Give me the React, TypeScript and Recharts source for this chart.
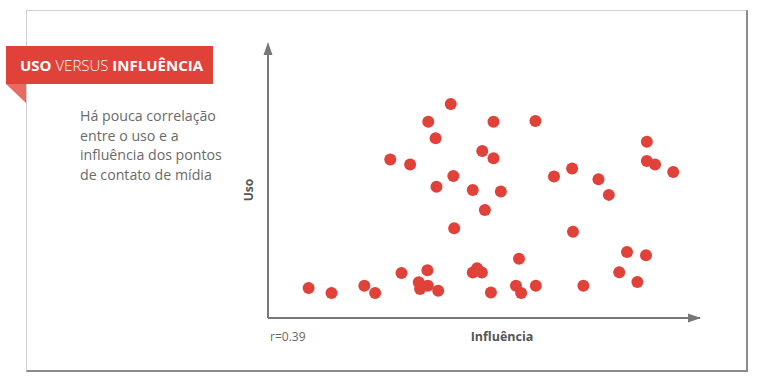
import React from "react";
import { ScatterChart, Scatter, XAxis, YAxis, ReferenceLine, ReferenceDot } from "recharts";

const influencia = [
  42.3, 37.1, 52.2, 61.9, 38.8, 87.7, 49.6, 52.2, 28.3, 32.9, 87.7, 89.6, 70.4, 93.8, 42.9, 66.2,
  76.5, 39.0, 47.4, 53.9, 78.9, 50.2, 43.1, 70.6, 83.1, 87.5, 58.1, 36.9, 30.9, 47.4, 48.4, 49.5,
  81.3, 85.5, 9.4, 14.7, 22.3, 24.8, 34.9, 35.2, 37.0, 39.4, 51.6, 57.4, 58.6, 62.0, 73.0,
];
const uso = [
  78.4, 71.9, 71.9, 72.2, 65.8, 64.6, 61.2, 58.5, 58.1, 56.2, 57.5, 56.2, 54.8, 53.5, 52.0, 51.8,
  50.8, 48.1, 46.9, 46.3, 45.1, 39.6, 32.9, 31.6, 24.2, 23.0, 21.7, 17.5, 16.5, 16.7, 18.2, 16.7,
  16.8, 13.2, 11.0, 9.2, 11.8, 9.2, 13.1, 10.6, 11.8, 10.0, 9.3, 11.8, 9.2, 11.8, 11.8,
];
const axisDomain: [number, number] = [0, 100];
const titleParts = ["USO", " VERSUS ", "INFLUÊNCIA"];
const descLines = ["Há pouca correlação", "entre o uso e a", "influência dos pontos", "de contato de mídia"];
const yLabel = "Uso";
const xLabel = "Influência";
const rLabel = "r=0.39";

const data = influencia.map((x, i) => ({ x, y: uso[i] }));

const RED = "#e0423a";
const AXIS = "#777";
const FONT = "'Open Sans', 'Noto Sans', sans-serif";

const Dot = (p: any) => <circle cx={p.cx} cy={p.cy} r={6} fill={RED} />;
const UpArrow = (p: any) => (
  <polygon points={`${p.cx},${p.cy - 3} ${p.cx - 4.5},${p.cy + 10} ${p.cx + 4.5},${p.cy + 10}`} fill={AXIS} />
);
const RightArrow = (p: any) => (
  <polygon points={`${p.cx + 1},${p.cy} ${p.cx - 12},${p.cy - 4.5} ${p.cx - 12},${p.cy + 4.5}`} fill={AXIS} />
);

export default function App() {
  return (
    <div style={{ position: "absolute", left: 0, top: 0, width: 760, height: 387, background: "#fff", fontFamily: FONT, overflow: "hidden" }}>
      {/* frame */}
      <div style={{ position: "absolute", left: 26, top: 10, width: 719, height: 359, borderTop: "1px solid #cfcfcf", borderLeft: "1px solid #cfcfcf", borderRight: "2px solid #8a8a8a", borderBottom: "2px solid #8a8a8a" }} />
      <div style={{ position: "absolute", left: 0, top: 0 }}>
        <ScatterChart width={760} height={387} margin={{ top: 45, right: 60, bottom: 69, left: 268 }}>
          <XAxis type="number" dataKey="x" domain={axisDomain} hide />
          <YAxis type="number" dataKey="y" domain={axisDomain} hide />
          <ReferenceLine x={0} stroke={AXIS} strokeWidth={2} />
          <ReferenceLine y={0} stroke={AXIS} strokeWidth={2} />
          <ReferenceDot x={0} y={100} shape={UpArrow} />
          <ReferenceDot x={100} y={0} shape={RightArrow} />
          <Scatter data={data} shape={Dot} isAnimationActive={false} />
        </ScatterChart>
      </div>
      {/* banner */}
      <div style={{ position: "absolute", left: 6, top: 46, width: 207, height: 38, background: RED }} />
      <svg style={{ position: "absolute", left: 0, top: 0 }} width={40} height={110}>
        <polygon points="6,84 26,84 26,103" fill="#e76b63" />
      </svg>
      <div style={{ position: "absolute", left: 20, top: 54, height: 22, lineHeight: "22px", fontSize: 15, color: "#fff", whiteSpace: "nowrap" }}>
        <span style={{ fontWeight: 700 }}>{titleParts[0]}</span>
        <span style={{ fontWeight: 300 }}>{titleParts[1]}</span>
        <span style={{ fontWeight: 700 }}>{titleParts[2]}</span>
      </div>
      {/* description */}
      <div style={{ position: "absolute", left: 80, top: 106, fontSize: 14.2, lineHeight: "19.5px", color: "#6a6a6a", whiteSpace: "nowrap" }}>
        {descLines.map((l, i) => (
          <div key={i}>{l}</div>
        ))}
      </div>
      {/* axis labels */}
      <div style={{ position: "absolute", left: 248, top: 190, transform: "translate(-50%, -50%) rotate(-90deg)", fontSize: 12, fontWeight: 700, color: "#555" }}>{yLabel}</div>
      <div style={{ position: "absolute", left: 502, top: 336, transform: "translate(-50%, -50%)", fontSize: 12.5, fontWeight: 700, color: "#555", whiteSpace: "nowrap" }}>{xLabel}</div>
      <div style={{ position: "absolute", left: 270, top: 328, fontSize: 12, color: "#666", whiteSpace: "nowrap" }}>{rLabel}</div>
    </div>
  );
}
